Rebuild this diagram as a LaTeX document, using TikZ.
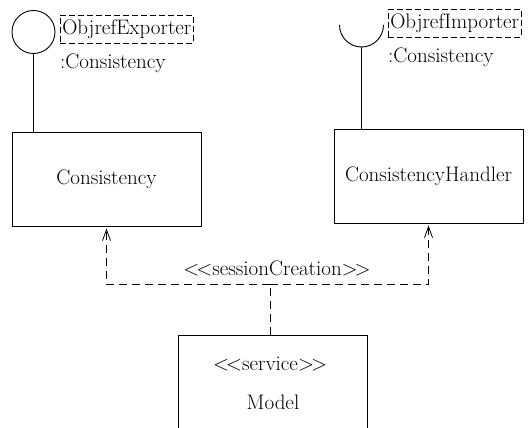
\documentclass[tikz,border=0pt]{standalone}
\usepackage{fontspec}
\usetikzlibrary{arrows.meta, positioning}

\newcommand{\stlt}{<\kern-3pt<}
\newcommand{\stgt}{>\kern-3pt>}

\begin{document}
\begin{tikzpicture}[x=1pt, y=-1pt, font=\fontsize{21}{25}\selectfont,
    comp/.style={draw, line width=0.9pt, minimum width=189pt, minimum height=94pt, inner sep=0pt},
    tag/.style={draw, dash pattern=on 6pt off 3pt, line width=0.7pt, inner xsep=2pt, inner ysep=0pt, minimum height=28pt, anchor=west},
    dep/.style={line width=0.8pt, dash pattern=on 8pt off 5pt}]
    \useasboundingbox (0,0) rectangle (528,428);
    % components
    \node[comp] (consistency) at (106.5,179) {Consistency};
    \node[comp] (handler) at (428.5,176) {ConsistencyHandler};
    \node[comp] (model) at (272.5,382) {};
    \node (modelstereo) at (270,364) {\stlt service\stgt};
    \node (modelname) at (273,402) {Model};
    % provided / required interfaces
    \node[circle, draw, line width=0.9pt, minimum size=43pt, inner sep=0pt] (expball) at (33.5,32) {};
    \draw[line width=0.9pt] (expball.south) -- (expball.south |- consistency.north);
    \node[tag] (exptag) at (60,29) {ObjrefExporter};
    \node[anchor=west, inner sep=0pt] (exptype) at (60,63) {:Consistency};
    \coordinate (impsock) at (361.5,25);
    \coordinate (impbase) at ([yshift=-22pt]impsock);
    \draw[line width=0.9pt] ([xshift=-22pt]impsock) arc[start angle=180, end angle=360, radius=22pt];
    \draw[line width=0.9pt] (impbase) -- (impbase |- handler.north);
    \node[tag] (imptag) at (388,23.5) {ObjrefImporter};
    \node[anchor=west, inner sep=0pt] (imptype) at (388,57) {:Consistency};
    % dependency
    \coordinate (fork) at (270,284);
    \draw[dep] (fork |- model.north) -- (fork);
    \draw[dep, -{Straight Barb[length=11pt, width=8pt]}, shorten >=2pt] (fork) -| (consistency.south);
    \draw[dep, -{Straight Barb[length=11pt, width=8pt]}, shorten >=2pt] (fork) -| (handler.south);
    \node (depname) at (277,268) {\stlt sessionCreation\stgt};
\end{tikzpicture}
\end{document}
